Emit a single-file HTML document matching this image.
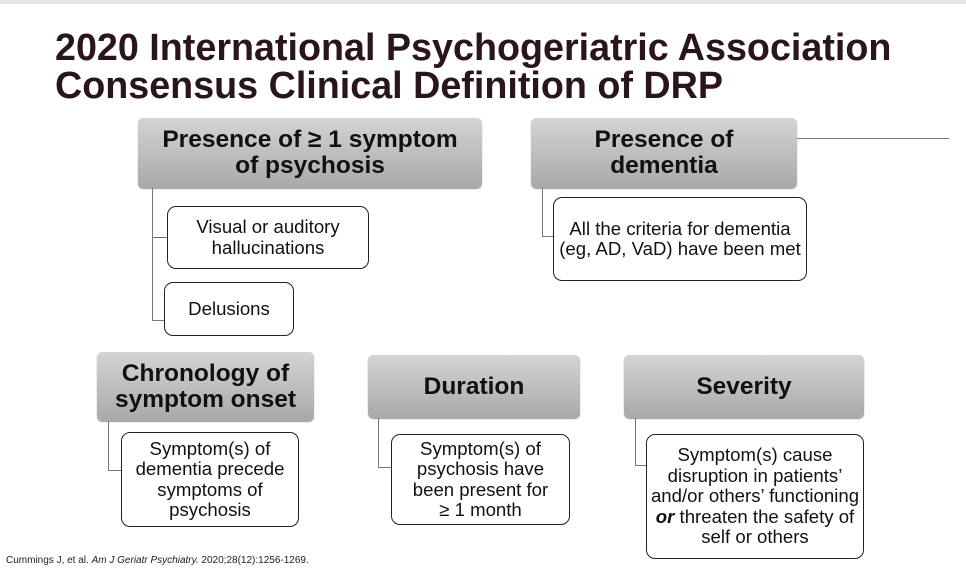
<!DOCTYPE html>
<html><head><meta charset="utf-8"><style>
body{margin:0;width:966px;height:568px;background:#fff;position:relative;overflow:hidden;font-family:"Liberation Sans",Arial,sans-serif;}
.a{position:absolute;box-sizing:border-box;}
.title{left:55px;font-weight:bold;font-size:37.7px;color:#2a1420;white-space:nowrap;line-height:38px;}
.hdr{background:linear-gradient(#d4d4d4,#a9a9a9);border-radius:5px;display:flex;align-items:center;justify-content:center;text-align:center;font-weight:bold;font-size:24.5px;line-height:26px;color:#111;box-shadow:0 1px 1px #999;white-space:nowrap;}
.box{background:#fff;border:1.5px solid #222;border-radius:9px;display:flex;align-items:center;justify-content:center;text-align:center;font-size:18.6px;line-height:20.5px;color:#111;white-space:nowrap;}
.v{border-left:1.3px solid #777;}
.h{border-top:1.3px solid #777;}
</style></head><body>
<div class="a" style="left:0;top:0;width:966px;height:4px;background:#e6e4e0"></div>
<div class="a title" style="top:28px">2020 International Psychogeriatric Association</div>
<div class="a title" style="top:66px">Consensus Clinical Definition of DRP</div>

<div class="a hdr" style="left:138px;top:118px;width:344px;height:70px"><div>Presence of ≥ 1 symptom<br>of psychosis</div></div>
<div class="a v" style="left:152px;top:188px;height:133px"></div>
<div class="a h" style="left:152px;top:237px;width:15px"></div>
<div class="a h" style="left:152px;top:320px;width:12px"></div>
<div class="a box" style="left:167px;top:206px;width:202px;height:63px"><div>Visual or auditory<br>hallucinations</div></div>
<div class="a box" style="left:164px;top:282px;width:130px;height:54px"><div>Delusions</div></div>

<div class="a hdr" style="left:531px;top:118px;width:266px;height:70px"><div>Presence of<br>dementia</div></div>
<div class="a h" style="left:797px;top:138px;width:152px"></div>
<div class="a v" style="left:542px;top:188px;height:49px"></div>
<div class="a h" style="left:542px;top:236px;width:12px"></div>
<div class="a box" style="left:553px;top:197px;width:254px;height:84px"><div>All the criteria for dementia<br>(eg, AD, VaD) have been met</div></div>

<div class="a hdr" style="left:97px;top:352px;width:217px;height:69px"><div>Chronology of<br>symptom onset</div></div>
<div class="a v" style="left:108px;top:421px;height:50px"></div>
<div class="a h" style="left:108px;top:470px;width:14px"></div>
<div class="a box" style="left:121px;top:432px;width:178px;height:95px"><div>Symptom(s) of<br>dementia precede<br>symptoms of<br>psychosis</div></div>

<div class="a hdr" style="left:368px;top:355px;width:212px;height:63px"><div>Duration</div></div>
<div class="a v" style="left:378px;top:418px;height:50px"></div>
<div class="a h" style="left:378px;top:467px;width:14px"></div>
<div class="a box" style="left:391px;top:434px;width:179px;height:91px"><div>Symptom(s) of<br>psychosis have<br>been present for<br>≥ 1 month</div></div>

<div class="a hdr" style="left:624px;top:355px;width:240px;height:63px"><div>Severity</div></div>
<div class="a v" style="left:635px;top:418px;height:48px"></div>
<div class="a h" style="left:635px;top:465px;width:12px"></div>
<div class="a box" style="left:646px;top:434px;width:218px;height:125px"><div>Symptom(s) cause<br>disruption in patients’<br>and/or others’ functioning<br><b><i>or</i></b> threaten the safety of<br>self or others</div></div>

<div class="a" style="left:6px;top:555px;font-size:10px;color:#222;white-space:nowrap">Cummings J, et al. <i>Am J Geriatr Psychiatry.</i> 2020;28(12):1256-1269.</div>
</body></html>
